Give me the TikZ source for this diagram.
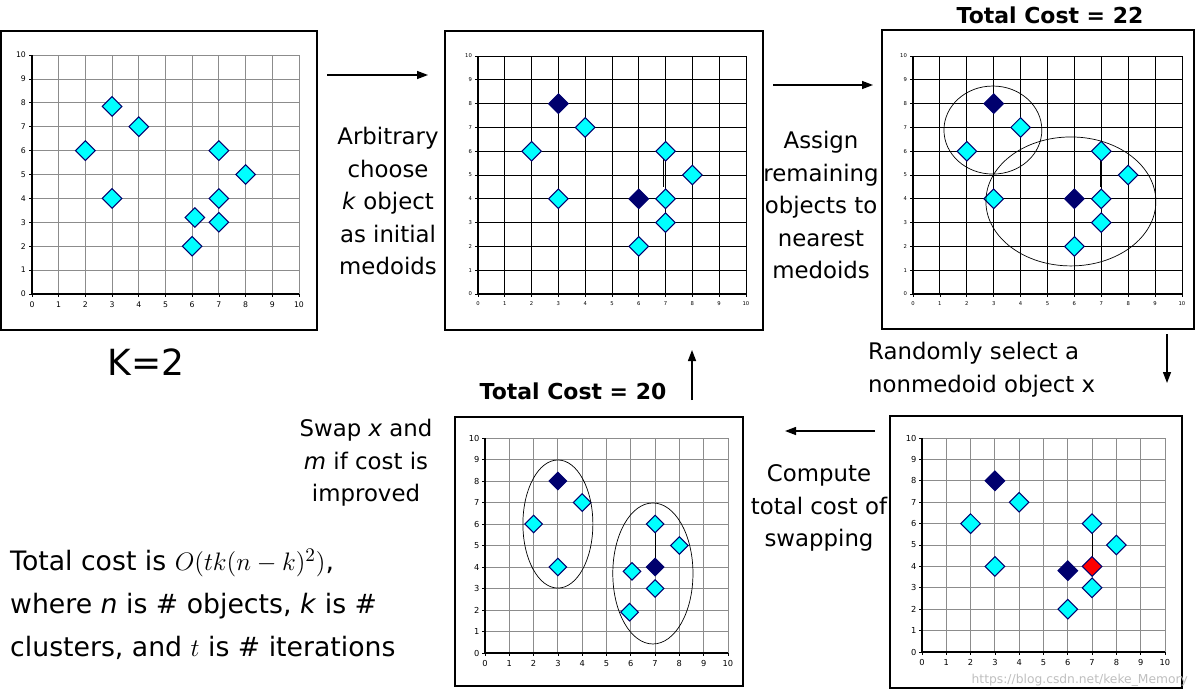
\documentclass[tikz,border=0pt]{standalone}
\usepackage{fontspec}
\setmainfont{DejaVu Sans}
\usetikzlibrary{shapes.geometric,arrows.meta}

\definecolor{ptcyan}{RGB}{0,255,255}
\definecolor{ptnavy}{RGB}{0,0,110}
\definecolor{ptred}{RGB}{255,0,0}

\tikzset{
  pt/.style={diamond, draw=ptnavy, fill=ptcyan, line width=0.6pt, inner sep=0pt, minimum size=0.4cm},
  med/.style={pt, fill=ptnavy},
  swp/.style={pt, fill=ptred},
  panel/.style={draw, line width=0.7pt},
  flow/.style={-{Triangle[length=2.2mm,width=1.6mm]}, line width=0.8pt},
  lbl/.style={align=center, font=\fontsize{13}{18.5}\selectfont},
  costlbl/.style={font=\bfseries\fontsize{12.5}{14}\selectfont},
}

% grid of one plot: #1 grid colour, #2 tick font size
\newcommand{\kmgrid}[2]{%
  \foreach \t in {0,...,10} {
    \draw[#1, line width=0.5pt] (\t,0) -- (\t,10);
    \draw[#1, line width=0.5pt] (0,\t) -- (10,\t);
    \draw (\t,0) -- (\t,-0.12);
    \draw (0,\t) -- (-0.12,\t);
    \node[anchor=east, inner sep=1pt, font=\fontsize{#2}{#2}\selectfont] at (-0.15,\t) {\t};
    \node[anchor=north, inner sep=1pt, font=\fontsize{#2}{#2}\selectfont] at (\t,-0.25) {\t};
  }
  \draw[line width=0.7pt] (0,10) -- (0,0) -- (10,0);
}

\begin{document}
\begin{tikzpicture}[x=0.02cm, y=-0.02cm]
  \useasboundingbox (0,0) rectangle (1195,699);

  % panels
  \draw[panel] (1,31) rectangle (317,330);
  \draw[panel] (445,31) rectangle (763,330);
  \draw[panel] (882,30) rectangle (1194,329);
  \draw[panel] (890,416) rectangle (1182,688);
  \draw[panel] (455,417) rectangle (743,686);

  % plot 1: the data
  \begin{scope}[shift={(32,294)}, x={(0.534cm,0cm)}, y={(0cm,0.478cm)}]
    \kmgrid{black!45}{4.4}
    \foreach \px/\py [count=\i] in {2/6, 3/7.85, 4/7, 3/4, 6/2, 6.1/3.2, 7/3, 7/4, 7/6, 8/5}
      \node[pt] (a\i) at (\px,\py) {};
  \end{scope}

  % plot 2: initial medoids
  \begin{scope}[shift={(478,294)}, x={(0.536cm,0cm)}, y={(0cm,0.476cm)}]
    \kmgrid{black}{3}
    \draw (6.93,5.9) -- (6.93,4.5);
    \draw (7,5.9) -- (7,4.5);
    \foreach \px/\py [count=\i] in {2/6, 4/7, 3/4, 6/2, 7/3, 7/4, 7/6, 8/5}
      \node[pt] (b\i) at (\px,\py) {};
    \node[med] (bm1) at (3,8) {};
    \node[med] (bm2) at (6,4) {};
  \end{scope}

  % plot 3: clusters
  \begin{scope}[shift={(913,294)}, x={(0.538cm,0cm)}, y={(0cm,0.476cm)}]
    \kmgrid{black}{3}
    \draw (6.95,5.8) -- (6.95,4.5);
    \foreach \px/\py [count=\i] in {2/6, 4/7, 3/4, 6/2, 7/3, 7/4, 7/6, 8/5}
      \node[pt] (c\i) at (\px,\py) {};
    \node[med] (cm1) at (3,8) {};
    \node[med] (cm2) at (6,4) {};
    \draw (2.97,6.89) ellipse [x radius=1.82, y radius=1.85];
    \draw (5.87,3.89) ellipse [x radius=3.16, y radius=2.71];
  \end{scope}

  % plot 4: random nonmedoid
  \begin{scope}[shift={(922,652)}, x={(0.486cm,0cm)}, y={(0cm,0.428cm)}]
    \kmgrid{black!45}{4.7}
    \draw (7,6) -- (7,4);
    \foreach \px/\py [count=\i] in {2/6, 4/7, 3/4, 6/2, 7/3, 7/6, 8/5}
      \node[pt] (d\i) at (\px,\py) {};
    \node[med] (dm1) at (3,8) {};
    \node[med] (dm2) at (6,3.8) {};
    \node[swp] (dx) at (7,4) {};
  \end{scope}

  % plot 5: after swap
  \begin{scope}[shift={(485,653)}, x={(0.486cm,0cm)}, y={(0cm,0.43cm)}]
    \kmgrid{black!45}{4.7}
    \draw (7,6) -- (7,4);
    \foreach \px/\py [count=\i] in {2/6, 4/7, 3/4, 6.05/3.8, 5.95/1.9, 7/3, 7/6, 8/5}
      \node[pt, minimum size=0.36cm] (e\i) at (\px,\py) {};
    \node[med, minimum size=0.36cm] (em1) at (3,8) {};
    \node[med, minimum size=0.36cm] (em2) at (7,4) {};
    \draw (3,6) ellipse [x radius=1.44, y radius=2.98];
    \draw (6.91,3.7) ellipse [x radius=1.65, y radius=3.28];
  \end{scope}

  % arrows between the steps
  \coordinate (s1) at (327,75);  \coordinate (t1) at (428,75);
  \coordinate (s2) at (773,85);  \coordinate (t2) at (873,85);
  \coordinate (s3) at (1167,334); \coordinate (t3) at (1167,383);
  \coordinate (s4) at (875,431); \coordinate (t4) at (785,431);
  \coordinate (s5) at (692,400); \coordinate (t5) at (692,350);
  \draw[flow] (s1) -- (t1);
  \draw[flow] (s2) -- (t2);
  \draw[flow] (s3) -- (t3);
  \draw[flow] (s4) -- (t4);
  \draw[flow] (s5) -- (t5);

  % step texts
  \node[lbl] (choose) at (388,201) {Arbitrary\\choose\\\textit{k} object\\as initial\\medoids};
  \node[lbl] (assign) at (821,205) {Assign\\remaining\\objects to\\nearest\\medoids};
  \node[lbl, align=left, anchor=west] (select) at (862,369.5) {Randomly select a\\nonmedoid object x};
  \node[lbl] (compute) at (819,508) {Compute\\total cost of\\swapping};
  \node[lbl] (swap) at (366,463) {Swap \textit{x} and\\\textit{m} if cost is\\improved};

  \node[costlbl] (cost22) at (1050,15) {Total Cost = 22};
  \node[costlbl] (cost20) at (573,391) {Total Cost = 20};

  \node[font=\fontsize{20.5}{24}\selectfont] (kk) at (146,362) {K=2};
  \node[align=left, anchor=west, font=\fontsize{15.2}{24.5}\selectfont] (total) at (4,604)
    {Total cost is $O(tk(n-k)^2)$,\\where \textit{n} is \# objects, \textit{k} is \#\\clusters, and $t$ is \# iterations};

  \node[anchor=east, inner sep=1pt, text=black!25, font=\fontsize{7}{9}\selectfont] (mark) at (1190,680) {https://blog.csdn.net/keke\_Memory};
\end{tikzpicture}
\end{document}
